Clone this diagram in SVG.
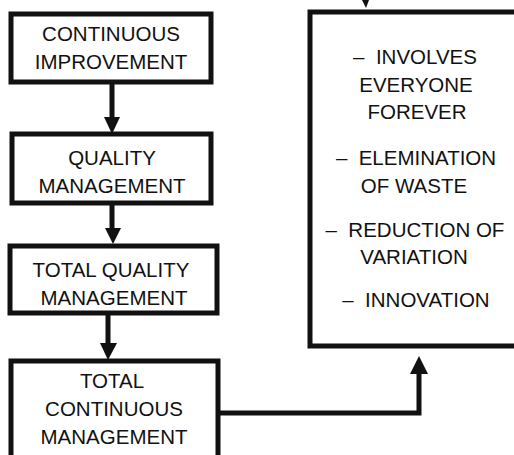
<svg xmlns="http://www.w3.org/2000/svg" width="514" height="455" viewBox="0 0 514 455">
  <style>
    .box { fill: #ffffff; stroke: #111111; stroke-width: 5; }
    .lbl { font-family: "Liberation Sans", Arial, Helvetica, sans-serif; font-size: 20.5px; fill: #111111; text-anchor: middle; white-space: pre; }
    .wire { fill: none; stroke: #111111; stroke-width: 5; }
    .head { fill: #111111; }
  </style>
  <rect width="514" height="455" fill="#ffffff"/>

  <!-- Chain of management approaches -->
  <g id="continuous-improvement">
    <rect class="box" x="11" y="14" width="200" height="68"/>
    <text class="lbl" x="111" y="41">CONTINUOUS</text>
    <text class="lbl" x="111" y="69">IMPROVEMENT</text>
  </g>

  <g id="quality-management">
    <rect class="box" x="12" y="134" width="199" height="69"/>
    <text class="lbl" x="112" y="165">QUALITY</text>
    <text class="lbl" x="112" y="193">MANAGEMENT</text>
  </g>

  <g id="total-quality-management">
    <rect class="box" x="10" y="246" width="207" height="67"/>
    <text class="lbl" x="111" y="277">TOTAL QUALITY</text>
    <text class="lbl" x="114" y="305">MANAGEMENT</text>
  </g>

  <g id="total-continuous-management">
    <rect class="box" x="11" y="361" width="207" height="110"/>
    <text class="lbl" x="112" y="388">TOTAL</text>
    <text class="lbl" x="114" y="416">CONTINUOUS</text>
    <text class="lbl" x="114" y="444">MANAGEMENT</text>
  </g>

  <!-- Characteristics box -->
  <g id="characteristics">
    <rect class="box" x="310" y="12" width="230" height="334"/>
    <text class="lbl" x="415" y="64" xml:space="preserve">–  INVOLVES</text>
    <text class="lbl" x="416" y="92">EVERYONE</text>
    <text class="lbl" x="417" y="119">FOREVER</text>
    <text class="lbl" x="416" y="165" xml:space="preserve">–  ELEMINATION</text>
    <text class="lbl" x="414" y="193">OF WASTE</text>
    <text class="lbl" x="415" y="237" xml:space="preserve">–  REDUCTION OF</text>
    <text class="lbl" x="414" y="264">VARIATION</text>
    <text class="lbl" x="416" y="307" xml:space="preserve">–  INNOVATION</text>
  </g>

  <!-- Connectors -->
  <g id="connectors">
    <line class="wire" x1="112" y1="84" x2="112" y2="119"/>
    <polygon class="head" points="104,117 120,117 112,134"/>

    <line class="wire" x1="112" y1="205" x2="112" y2="230"/>
    <polygon class="head" points="105,228 121,228 113,244"/>

    <line class="wire" x1="108" y1="315" x2="108" y2="345"/>
    <polygon class="head" points="100,343 117,343 108,360"/>

    <path class="wire" d="M218 413 H419 V372"/>
    <polygon class="head" points="410,374 428,374 419,356"/>

    <!-- arrow tip entering the characteristics box from above -->
    <polygon class="head" points="362,0 369,0 366,8"/>
  </g>
</svg>
